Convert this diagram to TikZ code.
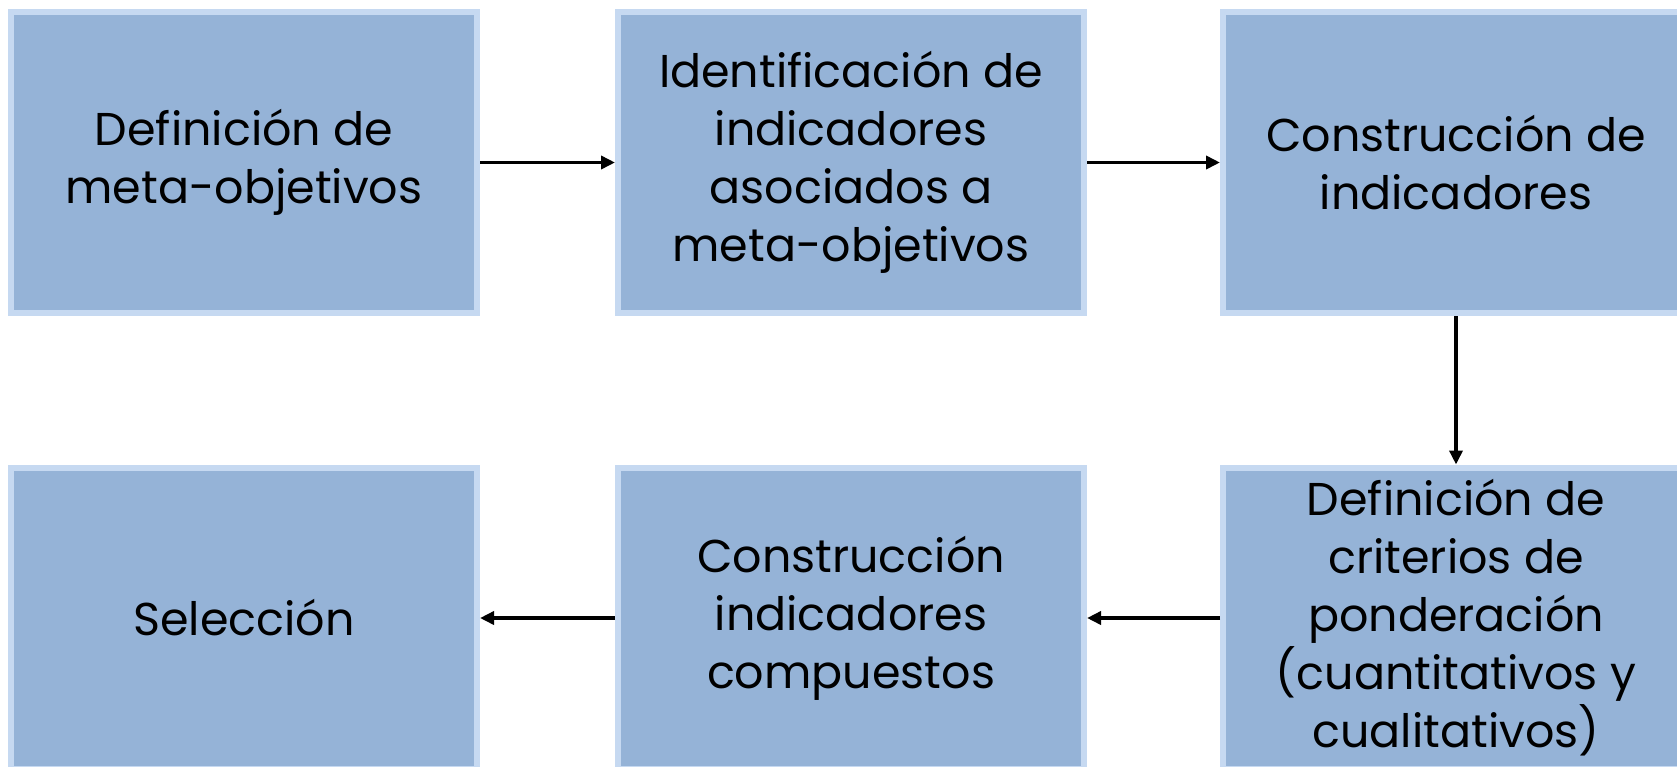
\documentclass[tikz,border=0pt]{standalone}
\usepackage{fontspec}
\setmainfont{Poppins}
\usetikzlibrary{arrows.meta}
\definecolor{boxfill}{HTML}{95B3D7}
\definecolor{boxline}{HTML}{C6D9F1}
\begin{document}
\begin{tikzpicture}[x=1pt,y=-1pt,
  stepbox/.style={rectangle,fill=boxfill,draw=boxline,line width=6pt,
    minimum width=466pt,minimum height=301pt,inner sep=0pt,align=center,
    font=\fontsize{46}{58}\selectfont,text=black},
  conn/.style={line width=3.5pt,-{Triangle[length=14pt,width=13pt]}}]
\useasboundingbox[fill=white] (0,0) rectangle (1677,766);
\node[stepbox] (a) at (244,162.5) {Definición de\\meta-objetivos};
\node[stepbox] (b) at (851,162.5) {Identificación de\\indicadores\\asociados a\\meta-objetivos};
\node[stepbox] (c) at (1456,162.5) {Construcción de\\indicadores};
\node[stepbox] (d) at (1456,618) {Definición de\\criterios de\\ponderación\\(cuantitativos y\\cualitativos)};
\node[stepbox] (e) at (851,618) {Construcción\\indicadores\\compuestos};
\node[stepbox] (f) at (244,618) {Selección};
\draw[conn] (a) -- (b);
\draw[conn] (b) -- (c);
\draw[conn] (c) -- (d);
\draw[conn] (d) -- (e);
\draw[conn] (e) -- (f);
\end{tikzpicture}
\end{document}
